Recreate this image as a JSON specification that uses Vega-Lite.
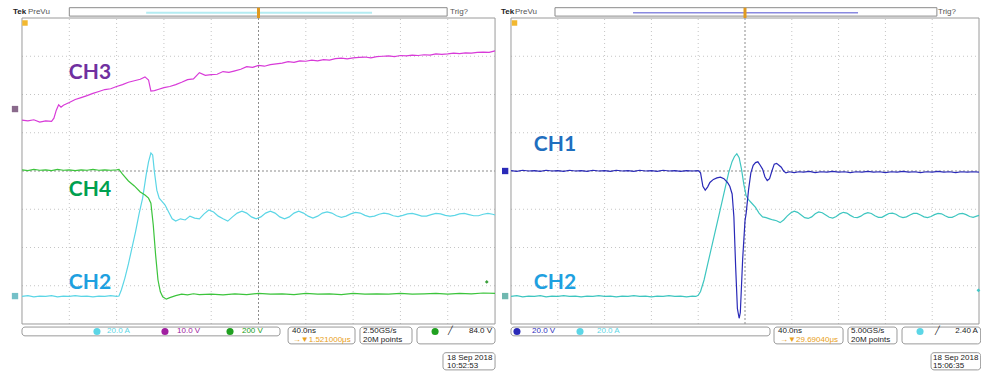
{
"$schema": "https://vega.github.io/schema/vega-lite/v6.json",
"autosize": {"type": "pad"},
"padding": 0,
"spacing": 0,
"bounds": "flush",
"background": "white",
"config": {"view": {"stroke": null}, "text": {"font": "Liberation Sans"}},
"hconcat": [
{
"width": 500, "height": 371,
"layer": [
 {"data": {"values": [{"t": -160}, {"t": -120}, {"t": -80}, {"t": -40}, {"t": 40}, {"t": 80}, {"t": 120}, {"t": 160}]},
  "mark": {"type": "rule", "color": "#c4c4c4", "strokeDash": [1, 3]},
  "encoding": {"x": {"field": "t", "type": "quantitative", "scale": {"domain": [-218.6, 204.2], "nice": false, "zero": false}, "axis": null}, "y": {"datum": -4, "type": "quantitative", "scale": {"domain": [-5.229, 4.471], "nice": false, "zero": false}, "axis": null}, "y2": {"datum": 4}}},
 {"data": {"values": [{"v": -3}, {"v": -2}, {"v": -1}, {"v": 1}, {"v": 2}, {"v": 3}]},
  "mark": {"type": "rule", "color": "#c4c4c4", "strokeDash": [1, 3]},
  "encoding": {"y": {"field": "v", "type": "quantitative", "axis": null}, "x": {"datum": -200, "type": "quantitative", "axis": null}, "x2": {"datum": 200}}},
 {"data": {"values": [{"t": 0}]}, "mark": {"type": "rule", "color": "#8c8c8c", "strokeDash": [2, 2]},
  "encoding": {"x": {"field": "t", "type": "quantitative", "axis": null}, "y": {"datum": -4, "type": "quantitative", "axis": null}, "y2": {"datum": 4}}},
 {"data": {"values": [{"v": 0}]}, "mark": {"type": "rule", "color": "#8c8c8c", "strokeDash": [2, 2]},
  "encoding": {"y": {"field": "v", "type": "quantitative", "axis": null}, "x": {"datum": -200, "type": "quantitative", "axis": null}, "x2": {"datum": 200}}},
 {"data": {"values": [{}]}, "mark": {"type": "rect", "filled": false, "color": "#9a9a9a", "strokeWidth": 1},
  "encoding": {"x": {"datum": -200, "type": "quantitative", "axis": null}, "x2": {"datum": 200}, "y": {"datum": -4, "type": "quantitative", "axis": null}, "y2": {"datum": 4}}},
 {"data": {"values": [{}]}, "mark": {"type": "rect", "fill": "white", "stroke": "#8a8a8a", "strokeWidth": 1},
  "encoding": {"x": {"datum": -160, "type": "quantitative", "axis": null}, "x2": {"datum": 159.5}, "y": {"datum": 4.05, "type": "quantitative", "axis": null}, "y2": {"datum": 4.27}}},
 {"data": {"values": [{}]}, "mark": {"type": "rule", "color": "#b4ecf2", "strokeWidth": 2},
  "encoding": {"x": {"datum": -95, "type": "quantitative", "axis": null}, "x2": {"datum": 96}, "y": {"datum": 4.14, "type": "quantitative", "axis": null}}},
 {"data": {"values": [{}]}, "mark": {"type": "rule", "color": "#e09a20", "strokeWidth": 3},
  "encoding": {"x": {"datum": 0, "type": "quantitative", "axis": null}, "y": {"datum": 4.0, "type": "quantitative", "axis": null}, "y2": {"datum": 4.27}}},
 {"data": {"values": [{"t": -197.5, "v": 3.87}]}, "mark": {"type": "point", "shape": "square", "filled": true, "color": "#f2b830", "size": 30, "opacity": 1},
  "encoding": {"x": {"field": "t", "type": "quantitative", "axis": null}, "y": {"field": "v", "type": "quantitative", "axis": null}}},
 {"data": {"values": [{"t": -207.6, "v": 4.16, "s": "Tek"}]}, "mark": {"type": "text", "align": "left", "baseline": "middle", "fontSize": 8, "fontWeight": "bold", "color": "#222"},
  "encoding": {"x": {"field": "t", "type": "quantitative", "axis": null}, "y": {"field": "v", "type": "quantitative", "axis": null}, "text": {"field": "s"}}},
 {"data": {"values": [{"t": -195, "v": 4.16, "s": "PreVu"}, {"t": 162, "v": 4.16, "s": "Trig?"}]}, "mark": {"type": "text", "align": "left", "baseline": "middle", "fontSize": 8, "color": "#555"},
  "encoding": {"x": {"field": "t", "type": "quantitative", "axis": null}, "y": {"field": "v", "type": "quantitative", "axis": null}, "text": {"field": "s"}}},
 {"data": {"values": [{"t": -205.9, "v": 1.62}]}, "mark": {"type": "point", "shape": "square", "filled": true, "color": "#8a6a8c", "size": 40, "opacity": 1},
  "encoding": {"x": {"field": "t", "type": "quantitative", "axis": null}, "y": {"field": "v", "type": "quantitative", "axis": null}}},
 {"data": {"values": [{"t": -205.9, "v": -3.27}]}, "mark": {"type": "point", "shape": "square", "filled": true, "color": "#74c0c8", "size": 40, "opacity": 1},
  "encoding": {"x": {"field": "t", "type": "quantitative", "axis": null}, "y": {"field": "v", "type": "quantitative", "axis": null}}},
 {"data": {"values": [{"t": 193, "v": -2.90}]}, "mark": {"type": "point", "shape": "diamond", "filled": true, "color": "#3aa03a", "size": 14, "opacity": 1},
  "encoding": {"x": {"field": "t", "type": "quantitative", "axis": null}, "y": {"field": "v", "type": "quantitative", "axis": null}}},
 {"data": {"values": [
  {"t": -200, "v": 1.33}, {"t": -195, "v": 1.31}, {"t": -190, "v": 1.34}, {"t": -185, "v": 1.28}, {"t": -180, "v": 1.31}, {"t": -175, "v": 1.30}, {"t": -173, "v": 1.38}, {"t": -171, "v": 1.59}, {"t": -169, "v": 1.73}, {"t": -167, "v": 1.67}, {"t": -165, "v": 1.72}, {"t": -160, "v": 1.79}, {"t": -155, "v": 1.87}, {"t": -150, "v": 1.92}, {"t": -145, "v": 1.97}, {"t": -140, "v": 2.03}, {"t": -135, "v": 2.08}, {"t": -130, "v": 2.13}, {"t": -125, "v": 2.15}, {"t": -120, "v": 2.21}, {"t": -115, "v": 2.26}, {"t": -110, "v": 2.32}, {"t": -105, "v": 2.36}, {"t": -100, "v": 2.40}, {"t": -96, "v": 2.46}, {"t": -93, "v": 2.38}, {"t": -91, "v": 2.09}, {"t": -88, "v": 2.10}, {"t": -85, "v": 2.13}, {"t": -80, "v": 2.18}, {"t": -75, "v": 2.21}, {"t": -70, "v": 2.26}, {"t": -65, "v": 2.32}, {"t": -60, "v": 2.39}, {"t": -55, "v": 2.41}, {"t": -50, "v": 2.57}, {"t": -45, "v": 2.50}, {"t": -40, "v": 2.52}, {"t": -35, "v": 2.53}, {"t": -30, "v": 2.60}, {"t": -25, "v": 2.58}, {"t": -20, "v": 2.62}, {"t": -15, "v": 2.66}, {"t": -10, "v": 2.73}, {"t": -5, "v": 2.71}, {"t": 0, "v": 2.76}, {"t": 5, "v": 2.74}, {"t": 10, "v": 2.78}, {"t": 15, "v": 2.80}, {"t": 20, "v": 2.82}, {"t": 25, "v": 2.86}, {"t": 30, "v": 2.84}, {"t": 35, "v": 2.88}, {"t": 40, "v": 2.87}, {"t": 45, "v": 2.90}, {"t": 50, "v": 2.88}, {"t": 55, "v": 2.91}, {"t": 60, "v": 2.90}, {"t": 65, "v": 2.94}, {"t": 70, "v": 2.95}, {"t": 75, "v": 2.93}, {"t": 80, "v": 2.96}, {"t": 85, "v": 2.97}, {"t": 90, "v": 2.98}, {"t": 95, "v": 2.96}, {"t": 100, "v": 2.99}, {"t": 105, "v": 3.00}, {"t": 110, "v": 3.01}, {"t": 115, "v": 2.99}, {"t": 120, "v": 3.02}, {"t": 125, "v": 3.01}, {"t": 130, "v": 3.03}, {"t": 135, "v": 3.02}, {"t": 140, "v": 3.04}, {"t": 145, "v": 3.03}, {"t": 150, "v": 3.06}, {"t": 155, "v": 3.05}, {"t": 160, "v": 3.06}, {"t": 165, "v": 3.08}, {"t": 170, "v": 3.07}, {"t": 175, "v": 3.09}, {"t": 180, "v": 3.08}, {"t": 185, "v": 3.10}, {"t": 190, "v": 3.11}, {"t": 195, "v": 3.10}, {"t": 200, "v": 3.14}]},
  "mark": {"type": "line", "color": "#d83ad8", "strokeWidth": 1.2},
  "encoding": {"x": {"field": "t", "type": "quantitative", "axis": null}, "y": {"field": "v", "type": "quantitative", "axis": null}}},
 {"data": {"values": [
  {"t": -200, "v": -3.28}, {"t": -195, "v": -3.26}, {"t": -190, "v": -3.29}, {"t": -185, "v": -3.27}, {"t": -180, "v": -3.28}, {"t": -175, "v": -3.26}, {"t": -170, "v": -3.29}, {"t": -165, "v": -3.27}, {"t": -160, "v": -3.28}, {"t": -155, "v": -3.26}, {"t": -150, "v": -3.28}, {"t": -145, "v": -3.27}, {"t": -140, "v": -3.29}, {"t": -135, "v": -3.27}, {"t": -130, "v": -3.28}, {"t": -125, "v": -3.26}, {"t": -120, "v": -3.28}, {"t": -118, "v": -3.27}, {"t": -116, "v": -3.11}, {"t": -113, "v": -2.80}, {"t": -110, "v": -2.43}, {"t": -107, "v": -2.01}, {"t": -104, "v": -1.59}, {"t": -101, "v": -1.12}, {"t": -98, "v": -0.71}, {"t": -95, "v": -0.10}, {"t": -93, "v": 0.24}, {"t": -91, "v": 0.47}, {"t": -89.5, "v": 0.42}, {"t": -88, "v": -0.03}, {"t": -86, "v": -0.50}, {"t": -84, "v": -0.71}, {"t": -82, "v": -0.78}, {"t": -79, "v": -0.89}, {"t": -76, "v": -1.07}, {"t": -73, "v": -1.25}, {"t": -70, "v": -1.31}, {"t": -66, "v": -1.25}, {"t": -62, "v": -1.28}, {"t": -58, "v": -1.18}, {"t": -54, "v": -1.23}, {"t": -50, "v": -1.25}, {"t": -46, "v": -1.12}, {"t": -42, "v": -1.02}, {"t": -38, "v": -1.07}, {"t": -34, "v": -1.18}, {"t": -30, "v": -1.25}, {"t": -26, "v": -1.31}, {"t": -22, "v": -1.20}, {"t": -18, "v": -1.10}, {"t": -14, "v": -1.05}, {"t": -10, "v": -1.10}, {"t": -6, "v": -1.20}, {"t": -2, "v": -1.25}, {"t": 2, "v": -1.20}, {"t": 6, "v": -1.10}, {"t": 10, "v": -1.05}, {"t": 14, "v": -1.10}, {"t": 18, "v": -1.20}, {"t": 22, "v": -1.25}, {"t": 26, "v": -1.20}, {"t": 30, "v": -1.10}, {"t": 34, "v": -1.05}, {"t": 38, "v": -1.10}, {"t": 42, "v": -1.18}, {"t": 46, "v": -1.23}, {"t": 50, "v": -1.18}, {"t": 54, "v": -1.10}, {"t": 58, "v": -1.07}, {"t": 62, "v": -1.10}, {"t": 66, "v": -1.17}, {"t": 70, "v": -1.21}, {"t": 74, "v": -1.18}, {"t": 78, "v": -1.12}, {"t": 82, "v": -1.08}, {"t": 86, "v": -1.10}, {"t": 90, "v": -1.16}, {"t": 94, "v": -1.20}, {"t": 98, "v": -1.18}, {"t": 102, "v": -1.13}, {"t": 106, "v": -1.10}, {"t": 110, "v": -1.12}, {"t": 114, "v": -1.17}, {"t": 118, "v": -1.19}, {"t": 122, "v": -1.16}, {"t": 126, "v": -1.12}, {"t": 130, "v": -1.11}, {"t": 134, "v": -1.14}, {"t": 138, "v": -1.18}, {"t": 142, "v": -1.18}, {"t": 146, "v": -1.14}, {"t": 150, "v": -1.11}, {"t": 154, "v": -1.12}, {"t": 158, "v": -1.16}, {"t": 162, "v": -1.18}, {"t": 166, "v": -1.16}, {"t": 170, "v": -1.12}, {"t": 174, "v": -1.11}, {"t": 178, "v": -1.14}, {"t": 182, "v": -1.17}, {"t": 186, "v": -1.17}, {"t": 190, "v": -1.13}, {"t": 194, "v": -1.11}, {"t": 198, "v": -1.13}, {"t": 200, "v": -1.15}]},
  "mark": {"type": "line", "color": "#5cd6e6", "strokeWidth": 1.2},
  "encoding": {"x": {"field": "t", "type": "quantitative", "axis": null}, "y": {"field": "v", "type": "quantitative", "axis": null}}},
 {"data": {"values": [
  {"t": -200, "v": 0.03}, {"t": -195, "v": 0.01}, {"t": -190, "v": 0.04}, {"t": -185, "v": 0.02}, {"t": -180, "v": 0.03}, {"t": -175, "v": 0.01}, {"t": -170, "v": 0.04}, {"t": -165, "v": 0.02}, {"t": -160, "v": 0.03}, {"t": -155, "v": 0.01}, {"t": -150, "v": 0.03}, {"t": -145, "v": 0.02}, {"t": -140, "v": 0.04}, {"t": -135, "v": 0.02}, {"t": -130, "v": 0.03}, {"t": -125, "v": 0.02}, {"t": -120, "v": 0.03}, {"t": -118, "v": 0.04}, {"t": -115, "v": -0.08}, {"t": -110, "v": -0.26}, {"t": -105, "v": -0.39}, {"t": -100, "v": -0.55}, {"t": -96, "v": -0.63}, {"t": -93, "v": -0.71}, {"t": -91, "v": -0.84}, {"t": -89, "v": -1.41}, {"t": -87, "v": -2.20}, {"t": -85, "v": -2.85}, {"t": -83, "v": -3.16}, {"t": -81, "v": -3.29}, {"t": -78, "v": -3.35}, {"t": -75, "v": -3.31}, {"t": -70, "v": -3.26}, {"t": -65, "v": -3.22}, {"t": -60, "v": -3.24}, {"t": -55, "v": -3.21}, {"t": -50, "v": -3.23}, {"t": -40, "v": -3.22}, {"t": -30, "v": -3.24}, {"t": -20, "v": -3.21}, {"t": -10, "v": -3.23}, {"t": 0, "v": -3.20}, {"t": 10, "v": -3.22}, {"t": 20, "v": -3.21}, {"t": 30, "v": -3.23}, {"t": 40, "v": -3.20}, {"t": 50, "v": -3.22}, {"t": 60, "v": -3.21}, {"t": 70, "v": -3.23}, {"t": 80, "v": -3.20}, {"t": 90, "v": -3.22}, {"t": 100, "v": -3.21}, {"t": 110, "v": -3.22}, {"t": 120, "v": -3.20}, {"t": 130, "v": -3.22}, {"t": 140, "v": -3.21}, {"t": 150, "v": -3.20}, {"t": 160, "v": -3.22}, {"t": 170, "v": -3.20}, {"t": 180, "v": -3.21}, {"t": 190, "v": -3.19}, {"t": 200, "v": -3.20}]},
  "mark": {"type": "line", "color": "#3cc43c", "strokeWidth": 1.2},
  "encoding": {"x": {"field": "t", "type": "quantitative", "axis": null}, "y": {"field": "v", "type": "quantitative", "axis": null}}},
 {"data": {"values": [{"t": -142.5, "v": 2.56, "s": "CH3"}]},
  "mark": {"type": "text", "font": "Lato", "fontWeight": "bold", "fontSize": 21, "align": "center", "baseline": "middle", "color": "#7030a0"},
  "encoding": {"x": {"field": "t", "type": "quantitative", "axis": null}, "y": {"field": "v", "type": "quantitative", "axis": null}, "text": {"field": "s"}}},
 {"data": {"values": [{"t": -142.5, "v": -0.50, "s": "CH4"}]},
  "mark": {"type": "text", "font": "Lato", "fontWeight": "bold", "fontSize": 21, "align": "center", "baseline": "middle", "color": "#00a050"},
  "encoding": {"x": {"field": "t", "type": "quantitative", "axis": null}, "y": {"field": "v", "type": "quantitative", "axis": null}, "text": {"field": "s"}}},
 {"data": {"values": [{"t": -142.5, "v": -2.93, "s": "CH2"}]},
  "mark": {"type": "text", "font": "Lato", "fontWeight": "bold", "fontSize": 21, "align": "center", "baseline": "middle", "color": "#1ea0e0"},
  "encoding": {"x": {"field": "t", "type": "quantitative", "axis": null}, "y": {"field": "v", "type": "quantitative", "axis": null}, "text": {"field": "s"}}},
 {"data": {"values": [{"t": -200, "t2": 18.2, "v": -4.08, "v2": -4.31}, {"t": 25, "t2": 81.6, "v": -4.08, "v2": -4.52}, {"t": 85.8, "t2": 129.8, "v": -4.08, "v2": -4.52}, {"t": 134, "t2": 200, "v": -4.08, "v2": -4.52}, {"t": 156, "t2": 200, "v": -4.75, "v2": -5.2}]},
  "mark": {"type": "rect", "filled": false, "color": "#9a9a9a", "cornerRadius": 3},
  "encoding": {"x": {"field": "t", "type": "quantitative", "axis": null}, "y": {"field": "v", "type": "quantitative", "axis": null}, "x2": {"field": "t2"}, "y2": {"field": "v2"}}},
 {"data": {"values": [{"t": -136.6, "v": -4.195}]}, "mark": {"type": "point", "shape": "circle", "filled": true, "color": "#5cd6e6", "size": 50, "opacity": 1},
  "encoding": {"x": {"field": "t", "type": "quantitative", "axis": null}, "y": {"field": "v", "type": "quantitative", "axis": null}}},
 {"data": {"values": [{"t": -79.1, "v": -4.195}]}, "mark": {"type": "point", "shape": "circle", "filled": true, "color": "#a020a0", "size": 50, "opacity": 1},
  "encoding": {"x": {"field": "t", "type": "quantitative", "axis": null}, "y": {"field": "v", "type": "quantitative", "axis": null}}},
 {"data": {"values": [{"t": -24.1, "v": -4.195}, {"t": 149.3, "v": -4.195}]}, "mark": {"type": "point", "shape": "circle", "filled": true, "color": "#20a020", "size": 50, "opacity": 1},
  "encoding": {"x": {"field": "t", "type": "quantitative", "axis": null}, "y": {"field": "v", "type": "quantitative", "axis": null}}},
 {"data": {"values": [{"t": -128.1, "v": -4.195, "s": "20.0 A"}]}, "mark": {"type": "text", "align": "left", "baseline": "middle", "fontSize": 8, "color": "#5cd6e6"},
  "encoding": {"x": {"field": "t", "type": "quantitative", "axis": null}, "y": {"field": "v", "type": "quantitative", "axis": null}, "text": {"field": "s"}}},
 {"data": {"values": [{"t": -68.9, "v": -4.195, "s": "10.0 V"}]}, "mark": {"type": "text", "align": "left", "baseline": "middle", "fontSize": 8, "color": "#a020a0"},
  "encoding": {"x": {"field": "t", "type": "quantitative", "axis": null}, "y": {"field": "v", "type": "quantitative", "axis": null}, "text": {"field": "s"}}},
 {"data": {"values": [{"t": -14, "v": -4.195, "s": "200 V"}]}, "mark": {"type": "text", "align": "left", "baseline": "middle", "fontSize": 8, "color": "#20a020"},
  "encoding": {"x": {"field": "t", "type": "quantitative", "axis": null}, "y": {"field": "v", "type": "quantitative", "axis": null}, "text": {"field": "s"}}},
 {"data": {"values": [{"t": 29, "v": -4.42, "s": "→▼1.521000μs"}]}, "mark": {"type": "text", "align": "left", "baseline": "middle", "fontSize": 8, "color": "#e8a020"},
  "encoding": {"x": {"field": "t", "type": "quantitative", "axis": null}, "y": {"field": "v", "type": "quantitative", "axis": null}, "text": {"field": "s"}}},
 {"data": {"values": [{"t": 28.3, "v": -4.19, "s": "40.0ns"}, {"t": 88.4, "v": -4.19, "s": "2.50GS/s"}, {"t": 88.4, "v": -4.42, "s": "20M points"}, {"t": 159.4, "v": -4.88, "s": "18 Sep  2018"}, {"t": 159.4, "v": -5.09, "s": "10:52:53"}, {"t": 160.3, "v": -4.195, "s": "╱"}]},
  "mark": {"type": "text", "align": "left", "baseline": "middle", "fontSize": 8, "color": "#222"},
  "encoding": {"x": {"field": "t", "type": "quantitative", "axis": null}, "y": {"field": "v", "type": "quantitative", "axis": null}, "text": {"field": "s"}}},
 {"data": {"values": [{"t": 197.5, "v": -4.195, "s": "84.0 V"}]}, "mark": {"type": "text", "align": "right", "baseline": "middle", "fontSize": 8, "color": "#222"},
  "encoding": {"x": {"field": "t", "type": "quantitative", "axis": null}, "y": {"field": "v", "type": "quantitative", "axis": null}, "text": {"field": "s"}}}
]
},
{
"width": 481, "height": 371,
"layer": [
 {"data": {"values": [{"t": -160}, {"t": -120}, {"t": -80}, {"t": -40}, {"t": 40}, {"t": 80}, {"t": 120}, {"t": 160}]},
  "mark": {"type": "rule", "color": "#c4c4c4", "strokeDash": [1, 3]},
  "encoding": {"x": {"field": "t", "type": "quantitative", "scale": {"domain": [-209.4, 201.7], "nice": false, "zero": false}, "axis": null}, "y": {"datum": -4, "type": "quantitative", "scale": {"domain": [-5.229, 4.471], "nice": false, "zero": false}, "axis": null}, "y2": {"datum": 4}}},
 {"data": {"values": [{"v": -3}, {"v": -2}, {"v": -1}, {"v": 1}, {"v": 2}, {"v": 3}]},
  "mark": {"type": "rule", "color": "#c4c4c4", "strokeDash": [1, 3]},
  "encoding": {"y": {"field": "v", "type": "quantitative", "axis": null}, "x": {"datum": -200, "type": "quantitative", "axis": null}, "x2": {"datum": 200}}},
 {"data": {"values": [{"t": 0}]}, "mark": {"type": "rule", "color": "#8c8c8c", "strokeDash": [2, 2]},
  "encoding": {"x": {"field": "t", "type": "quantitative", "axis": null}, "y": {"datum": -4, "type": "quantitative", "axis": null}, "y2": {"datum": 4}}},
 {"data": {"values": [{"v": 0}]}, "mark": {"type": "rule", "color": "#8c8c8c", "strokeDash": [2, 2]},
  "encoding": {"y": {"field": "v", "type": "quantitative", "axis": null}, "x": {"datum": -200, "type": "quantitative", "axis": null}, "x2": {"datum": 200}}},
 {"data": {"values": [{}]}, "mark": {"type": "rect", "filled": false, "color": "#9a9a9a", "strokeWidth": 1},
  "encoding": {"x": {"datum": -200, "type": "quantitative", "axis": null}, "x2": {"datum": 200}, "y": {"datum": -4, "type": "quantitative", "axis": null}, "y2": {"datum": 4}}},
 {"data": {"values": [{}]}, "mark": {"type": "rect", "fill": "white", "stroke": "#8a8a8a", "strokeWidth": 1},
  "encoding": {"x": {"datum": -162.4, "type": "quantitative", "axis": null}, "x2": {"datum": 164}, "y": {"datum": 4.05, "type": "quantitative", "axis": null}, "y2": {"datum": 4.27}}},
 {"data": {"values": [{}]}, "mark": {"type": "rule", "color": "#8a8ae0", "strokeWidth": 1.5},
  "encoding": {"x": {"datum": -95.7, "type": "quantitative", "axis": null}, "x2": {"datum": 96.6}, "y": {"datum": 4.14, "type": "quantitative", "axis": null}}},
 {"data": {"values": [{}]}, "mark": {"type": "rule", "color": "#e09a20", "strokeWidth": 3},
  "encoding": {"x": {"datum": 0, "type": "quantitative", "axis": null}, "y": {"datum": 4.0, "type": "quantitative", "axis": null}, "y2": {"datum": 4.27}}},
 {"data": {"values": [{"t": -197, "v": 3.87}]}, "mark": {"type": "point", "shape": "square", "filled": true, "color": "#f2b830", "size": 30, "opacity": 1},
  "encoding": {"x": {"field": "t", "type": "quantitative", "axis": null}, "y": {"field": "v", "type": "quantitative", "axis": null}}},
 {"data": {"values": [{"t": -208.5, "v": 4.16, "s": "Tek"}]}, "mark": {"type": "text", "align": "left", "baseline": "middle", "fontSize": 8, "fontWeight": "bold", "color": "#222"},
  "encoding": {"x": {"field": "t", "type": "quantitative", "axis": null}, "y": {"field": "v", "type": "quantitative", "axis": null}, "text": {"field": "s"}}},
 {"data": {"values": [{"t": -196.6, "v": 4.16, "s": "PreVu"}, {"t": 165, "v": 4.16, "s": "Trig?"}]}, "mark": {"type": "text", "align": "left", "baseline": "middle", "fontSize": 8, "color": "#555"},
  "encoding": {"x": {"field": "t", "type": "quantitative", "axis": null}, "y": {"field": "v", "type": "quantitative", "axis": null}, "text": {"field": "s"}}},
 {"data": {"values": [{"t": -205, "v": 0}]}, "mark": {"type": "point", "shape": "square", "filled": true, "color": "#2a2ab8", "size": 40, "opacity": 1},
  "encoding": {"x": {"field": "t", "type": "quantitative", "axis": null}, "y": {"field": "v", "type": "quantitative", "axis": null}}},
 {"data": {"values": [{"t": -205, "v": -3.27}]}, "mark": {"type": "point", "shape": "square", "filled": true, "color": "#70b8b0", "size": 40, "opacity": 1},
  "encoding": {"x": {"field": "t", "type": "quantitative", "axis": null}, "y": {"field": "v", "type": "quantitative", "axis": null}}},
 {"data": {"values": [{"t": 199.5, "v": -3.12}]}, "mark": {"type": "point", "shape": "diamond", "filled": true, "color": "#40c8c8", "size": 14, "opacity": 1},
  "encoding": {"x": {"field": "t", "type": "quantitative", "axis": null}, "y": {"field": "v", "type": "quantitative", "axis": null}}},
 {"data": {"values": [
  {"t": -200, "v": -3.28}, {"t": -195, "v": -3.26}, {"t": -190, "v": -3.29}, {"t": -185, "v": -3.27}, {"t": -180, "v": -3.28}, {"t": -175, "v": -3.26}, {"t": -170, "v": -3.29}, {"t": -165, "v": -3.27}, {"t": -160, "v": -3.28}, {"t": -155, "v": -3.26}, {"t": -150, "v": -3.28}, {"t": -145, "v": -3.27}, {"t": -140, "v": -3.29}, {"t": -135, "v": -3.27}, {"t": -130, "v": -3.28}, {"t": -125, "v": -3.26}, {"t": -120, "v": -3.28}, {"t": -115, "v": -3.27}, {"t": -110, "v": -3.29}, {"t": -105, "v": -3.27}, {"t": -100, "v": -3.28}, {"t": -95, "v": -3.26}, {"t": -90, "v": -3.28}, {"t": -85, "v": -3.27}, {"t": -80, "v": -3.29}, {"t": -75, "v": -3.27}, {"t": -70, "v": -3.28}, {"t": -65, "v": -3.26}, {"t": -60, "v": -3.28}, {"t": -55, "v": -3.27}, {"t": -50, "v": -3.29}, {"t": -45, "v": -3.27}, {"t": -42, "v": -3.28},
  {"t": -40, "v": -3.25}, {"t": -38, "v": -3.15}, {"t": -35, "v": -2.85}, {"t": -32, "v": -2.45}, {"t": -29, "v": -2.05}, {"t": -26, "v": -1.65}, {"t": -23, "v": -1.25}, {"t": -20, "v": -0.85}, {"t": -17, "v": -0.45}, {"t": -14, "v": -0.05}, {"t": -11, "v": 0.25}, {"t": -9, "v": 0.38}, {"t": -7, "v": 0.45}, {"t": -5, "v": 0.35}, {"t": -3, "v": 0.05}, {"t": -1, "v": -0.35}, {"t": 1, "v": -0.65}, {"t": 3, "v": -0.75}, {"t": 6, "v": -0.85}, {"t": 9, "v": -0.95}, {"t": 12, "v": -1.10}, {"t": 15, "v": -1.20}, {"t": 18, "v": -1.22}, {"t": 21, "v": -1.25}, {"t": 24, "v": -1.28}, {"t": 27, "v": -1.30}, {"t": 30, "v": -1.35}, {"t": 33, "v": -1.28}, {"t": 36, "v": -1.18}, {"t": 39, "v": -1.10}, {"t": 42, "v": -1.05}, {"t": 45, "v": -1.08}, {"t": 48, "v": -1.15}, {"t": 51, "v": -1.22}, {"t": 54, "v": -1.24}, {"t": 57, "v": -1.20}, {"t": 60, "v": -1.12}, {"t": 63, "v": -1.07}, {"t": 66, "v": -1.09}, {"t": 69, "v": -1.15}, {"t": 72, "v": -1.21}, {"t": 75, "v": -1.23}, {"t": 78, "v": -1.19}, {"t": 81, "v": -1.12}, {"t": 84, "v": -1.08}, {"t": 87, "v": -1.10}, {"t": 90, "v": -1.16}, {"t": 93, "v": -1.21}, {"t": 96, "v": -1.22}, {"t": 99, "v": -1.18}, {"t": 102, "v": -1.12}, {"t": 105, "v": -1.09}, {"t": 108, "v": -1.11}, {"t": 111, "v": -1.17}, {"t": 114, "v": -1.21}, {"t": 117, "v": -1.21}, {"t": 120, "v": -1.16}, {"t": 123, "v": -1.11}, {"t": 126, "v": -1.10}, {"t": 129, "v": -1.13}, {"t": 132, "v": -1.19}, {"t": 135, "v": -1.22}, {"t": 138, "v": -1.20}, {"t": 141, "v": -1.15}, {"t": 144, "v": -1.11}, {"t": 147, "v": -1.11}, {"t": 150, "v": -1.15}, {"t": 153, "v": -1.20}, {"t": 156, "v": -1.22}, {"t": 159, "v": -1.19}, {"t": 162, "v": -1.14}, {"t": 165, "v": -1.11}, {"t": 168, "v": -1.12}, {"t": 171, "v": -1.17}, {"t": 174, "v": -1.21}, {"t": 177, "v": -1.21}, {"t": 180, "v": -1.17}, {"t": 183, "v": -1.12}, {"t": 186, "v": -1.11}, {"t": 189, "v": -1.14}, {"t": 192, "v": -1.19}, {"t": 195, "v": -1.21}, {"t": 198, "v": -1.18}, {"t": 200, "v": -1.16}]},
  "mark": {"type": "line", "color": "#3ec6c0", "strokeWidth": 1.2},
  "encoding": {"x": {"field": "t", "type": "quantitative", "axis": null}, "y": {"field": "v", "type": "quantitative", "axis": null}}},
 {"data": {"values": [
  {"t": -200, "v": 0.01}, {"t": -195, "v": -0.01}, {"t": -190, "v": 0.02}, {"t": -185, "v": 0.00}, {"t": -180, "v": 0.01}, {"t": -175, "v": -0.01}, {"t": -170, "v": 0.02}, {"t": -165, "v": 0.00}, {"t": -160, "v": 0.01}, {"t": -155, "v": -0.01}, {"t": -150, "v": 0.02}, {"t": -145, "v": 0.00}, {"t": -140, "v": 0.01}, {"t": -135, "v": -0.01}, {"t": -130, "v": 0.02}, {"t": -125, "v": 0.00}, {"t": -120, "v": 0.01}, {"t": -115, "v": -0.01}, {"t": -110, "v": 0.02}, {"t": -105, "v": 0.00}, {"t": -100, "v": 0.01}, {"t": -95, "v": -0.01}, {"t": -90, "v": 0.02}, {"t": -85, "v": 0.00}, {"t": -80, "v": 0.01}, {"t": -75, "v": -0.01}, {"t": -70, "v": 0.02}, {"t": -65, "v": 0.00}, {"t": -60, "v": 0.01}, {"t": -55, "v": -0.01}, {"t": -50, "v": 0.01}, {"t": -45, "v": 0.00}, {"t": -40, "v": 0.01}, {"t": -38, "v": -0.05}, {"t": -36, "v": -0.40}, {"t": -34, "v": -0.50}, {"t": -32, "v": -0.42}, {"t": -30, "v": -0.30}, {"t": -27, "v": -0.22}, {"t": -24, "v": -0.18}, {"t": -21, "v": -0.16}, {"t": -18, "v": -0.20}, {"t": -15, "v": -0.30}, {"t": -13, "v": -0.40}, {"t": -11, "v": -0.60}, {"t": -9.5, "v": -1.2}, {"t": -8, "v": -2.5}, {"t": -6.5, "v": -3.6}, {"t": -5, "v": -3.85}, {"t": -4, "v": -3.7}, {"t": -3, "v": -3.0}, {"t": -2, "v": -2.3}, {"t": -1, "v": -1.8}, {"t": 0, "v": -1.3}, {"t": 1, "v": -1.1}, {"t": 3, "v": -0.5}, {"t": 5, "v": -0.05}, {"t": 7, "v": 0.15}, {"t": 9, "v": 0.22}, {"t": 11, "v": 0.24}, {"t": 13, "v": 0.15}, {"t": 15, "v": 0.05}, {"t": 17, "v": -0.15}, {"t": 19, "v": -0.25}, {"t": 21, "v": -0.20}, {"t": 23, "v": 0.0}, {"t": 25, "v": 0.18}, {"t": 27, "v": 0.20}, {"t": 29, "v": 0.15}, {"t": 31, "v": 0.10}, {"t": 33, "v": 0.0}, {"t": 35, "v": -0.05}, {"t": 38, "v": -0.02}, {"t": 42, "v": -0.04}, {"t": 46, "v": -0.02}, {"t": 50, "v": -0.03}, {"t": 55, "v": -0.01}, {"t": 60, "v": -0.04}, {"t": 65, "v": -0.02}, {"t": 70, "v": -0.03}, {"t": 75, "v": -0.01}, {"t": 80, "v": -0.03}, {"t": 85, "v": -0.02}, {"t": 90, "v": -0.04}, {"t": 95, "v": -0.02}, {"t": 100, "v": -0.03}, {"t": 105, "v": -0.01}, {"t": 110, "v": -0.03}, {"t": 115, "v": -0.02}, {"t": 120, "v": -0.04}, {"t": 125, "v": -0.02}, {"t": 130, "v": -0.03}, {"t": 135, "v": -0.01}, {"t": 140, "v": -0.03}, {"t": 145, "v": -0.02}, {"t": 150, "v": -0.04}, {"t": 155, "v": -0.02}, {"t": 160, "v": -0.03}, {"t": 165, "v": -0.01}, {"t": 170, "v": -0.03}, {"t": 175, "v": -0.02}, {"t": 180, "v": -0.04}, {"t": 185, "v": -0.02}, {"t": 190, "v": -0.03}, {"t": 195, "v": -0.02}, {"t": 200, "v": -0.03}]},
  "mark": {"type": "line", "color": "#2a2ab8", "strokeWidth": 1.2},
  "encoding": {"x": {"field": "t", "type": "quantitative", "axis": null}, "y": {"field": "v", "type": "quantitative", "axis": null}}},
 {"data": {"values": [{"t": -162.4, "v": 0.68, "s": "CH1"}]},
  "mark": {"type": "text", "font": "Lato", "fontWeight": "bold", "fontSize": 21, "align": "center", "baseline": "middle", "color": "#1f6fbf"},
  "encoding": {"x": {"field": "t", "type": "quantitative", "axis": null}, "y": {"field": "v", "type": "quantitative", "axis": null}, "text": {"field": "s"}}},
 {"data": {"values": [{"t": -162.4, "v": -2.93, "s": "CH2"}]},
  "mark": {"type": "text", "font": "Lato", "fontWeight": "bold", "fontSize": 21, "align": "center", "baseline": "middle", "color": "#1ea0e0"},
  "encoding": {"x": {"field": "t", "type": "quantitative", "axis": null}, "y": {"field": "v", "type": "quantitative", "axis": null}, "text": {"field": "s"}}},
 {"data": {"values": [{"t": -200, "t2": 21.4, "v": -4.08, "v2": -4.31}, {"t": 24.8, "t2": 83.8, "v": -4.08, "v2": -4.52}, {"t": 88, "t2": 129.9, "v": -4.08, "v2": -4.52}, {"t": 134.2, "t2": 201.4, "v": -4.08, "v2": -4.52}, {"t": 159, "t2": 201.4, "v": -4.75, "v2": -5.2}]},
  "mark": {"type": "rect", "filled": false, "color": "#9a9a9a", "cornerRadius": 3},
  "encoding": {"x": {"field": "t", "type": "quantitative", "axis": null}, "y": {"field": "v", "type": "quantitative", "axis": null}, "x2": {"field": "t2"}, "y2": {"field": "v2"}}},
 {"data": {"values": [{"t": -194.9, "v": -4.195}]}, "mark": {"type": "point", "shape": "circle", "filled": true, "color": "#2a2ab8", "size": 50, "opacity": 1},
  "encoding": {"x": {"field": "t", "type": "quantitative", "axis": null}, "y": {"field": "v", "type": "quantitative", "axis": null}}},
 {"data": {"values": [{"t": -141, "v": -4.195}, {"t": 149.6, "v": -4.195}]}, "mark": {"type": "point", "shape": "circle", "filled": true, "color": "#5cd6e6", "size": 50, "opacity": 1},
  "encoding": {"x": {"field": "t", "type": "quantitative", "axis": null}, "y": {"field": "v", "type": "quantitative", "axis": null}}},
 {"data": {"values": [{"t": -182, "v": -4.195, "s": "20.0 V"}]}, "mark": {"type": "text", "align": "left", "baseline": "middle", "fontSize": 8, "color": "#3030c0"},
  "encoding": {"x": {"field": "t", "type": "quantitative", "axis": null}, "y": {"field": "v", "type": "quantitative", "axis": null}, "text": {"field": "s"}}},
 {"data": {"values": [{"t": -126.5, "v": -4.195, "s": "20.0 A"}]}, "mark": {"type": "text", "align": "left", "baseline": "middle", "fontSize": 8, "color": "#5cd6e6"},
  "encoding": {"x": {"field": "t", "type": "quantitative", "axis": null}, "y": {"field": "v", "type": "quantitative", "axis": null}, "text": {"field": "s"}}},
 {"data": {"values": [{"t": 30, "v": -4.42, "s": "→▼29.69040μs"}]}, "mark": {"type": "text", "align": "left", "baseline": "middle", "fontSize": 8, "color": "#e8a020"},
  "encoding": {"x": {"field": "t", "type": "quantitative", "axis": null}, "y": {"field": "v", "type": "quantitative", "axis": null}, "text": {"field": "s"}}},
 {"data": {"values": [{"t": 28.2, "v": -4.19, "s": "40.0ns"}, {"t": 90.6, "v": -4.19, "s": "5.00GS/s"}, {"t": 90.6, "v": -4.42, "s": "20M points"}, {"t": 160.7, "v": -4.88, "s": "18 Sep  2018"}, {"t": 160.7, "v": -5.09, "s": "15:06:35"}, {"t": 162.4, "v": -4.195, "s": "╱"}]},
  "mark": {"type": "text", "align": "left", "baseline": "middle", "fontSize": 8, "color": "#222"},
  "encoding": {"x": {"field": "t", "type": "quantitative", "axis": null}, "y": {"field": "v", "type": "quantitative", "axis": null}, "text": {"field": "s"}}},
 {"data": {"values": [{"t": 199.1, "v": -4.195, "s": "2.40 A"}]}, "mark": {"type": "text", "align": "right", "baseline": "middle", "fontSize": 8, "color": "#222"},
  "encoding": {"x": {"field": "t", "type": "quantitative", "axis": null}, "y": {"field": "v", "type": "quantitative", "axis": null}, "text": {"field": "s"}}}
]
}
]
}
